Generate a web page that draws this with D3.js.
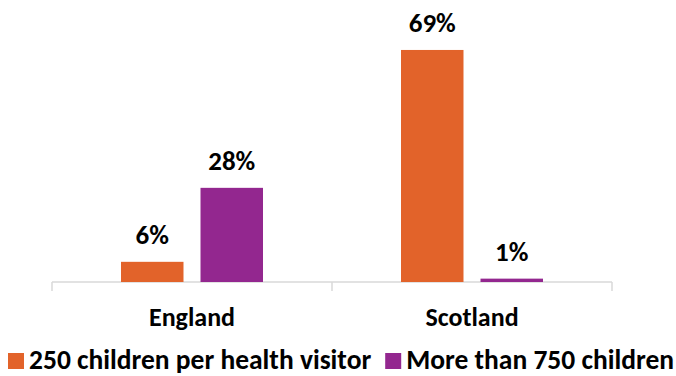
<!DOCTYPE html>
<html>
<head>
<meta charset="utf-8">
<script src="https://cdn.jsdelivr.net/npm/d3@7"></script>
<style>
  body { margin: 0; background: #fff; }
  svg { display: block; font-family: Carlito, Calibri, "Open Sans", sans-serif; font-weight: bold; }
</style>
</head>
<body>
<div class="canvas"></div>
<script>
const categories = ['England', 'Scotland'];
const seriesNames = ['250 children per health visitor', 'More than 750 children'];
const series250 = [6, 69];
const series750 = [28, 1];
const colors = ['#e2632a', '#93278f'];

const WIDTH = 676;
const HEIGHT = 376;
const FONT = 'Carlito, Calibri, "Open Sans", sans-serif';
const margin = { top: 46.6, left: 52, right: 64, bottom: 94 };

const svg = d3.select('.canvas')
    .append('svg')
    .attr('width', WIDTH)
    .attr('height', HEIGHT);

const data = categories.map((c, i) => ({
    category: c,
    values: [series250[i], series750[i]]
}));

const x = d3.scaleBand()
    .domain(categories)
    .range([margin.left, WIDTH - margin.right]);

// two bars per category
const inner = d3.scaleBand()
    .domain([0, 1])
    .range([0, x.bandwidth()])
    .paddingInner(0.214)
    .paddingOuter(0.868);

const y = d3.scaleLinear()
    .domain([0, 70])
    .range([HEIGHT - margin.bottom, margin.top]);

// x axis
const xAxis = svg.append('g')
    .attr('transform', `translate(0, ${y(0)})`)
    .call(d3.axisBottom(x).tickSize(0).tickPadding(26));
xAxis.select('.domain').remove();
xAxis.selectAll('text')
    .attr('font-size', 26)
    .attr('font-family', FONT)
    .attr('font-weight', 'bold')
    .attr('fill', '#000');

// axis line and separators between categories
const edges = [margin.left, ...categories.map(c => x(c) + x.bandwidth())];
svg.append('line')
    .attr('x1', margin.left).attr('x2', WIDTH - margin.right)
    .attr('y1', y(0)).attr('y2', y(0))
    .attr('stroke', '#d9d9d9').attr('stroke-width', 1.5);
svg.selectAll('.sep')
    .data(edges)
    .enter().append('line')
    .attr('class', 'sep')
    .attr('x1', d => d).attr('x2', d => d)
    .attr('y1', y(0)).attr('y2', y(0) + 9)
    .attr('stroke', '#d9d9d9').attr('stroke-width', 1.5);

const groups = svg.selectAll('.group')
    .data(data)
    .enter().append('g')
    .attr('class', 'group')
    .attr('transform', d => `translate(${x(d.category)}, 0)`);

groups.selectAll('rect')
    .data(d => d.values)
    .enter().append('rect')
    .attr('x', (d, i) => inner(i))
    .attr('width', inner.bandwidth())
    .attr('y', d => y(d))
    .attr('height', d => y(0) - y(d))
    .attr('fill', (d, i) => colors[i]);

groups.selectAll('.label')
    .data(d => d.values)
    .enter().append('text')
    .attr('class', 'label')
    .attr('x', (d, i) => inner(i) + inner.bandwidth() / 2)
    .attr('y', d => y(d) - 17.5)
    .attr('text-anchor', 'middle')
    .attr('font-size', 27)
    .text(d => d + '%');

// legend
const legend = svg.append('g').attr('transform', 'translate(8, 369)');
let lx = 0;
seriesNames.forEach((name, i) => {
    legend.append('rect')
        .attr('x', lx).attr('y', -16)
        .attr('width', 16).attr('height', 16)
        .attr('fill', colors[i]);
    const t = legend.append('text')
        .attr('x', lx + 21)
        .attr('font-size', 27.5)
        .text(name);
    lx += 21 + t.node().getComputedTextLength() + 14;
});
</script>
</body>
</html>
